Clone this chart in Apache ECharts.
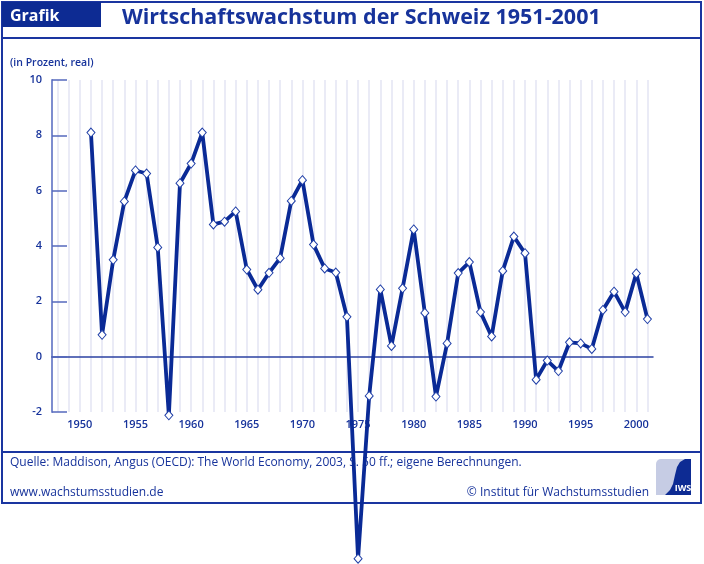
<!DOCTYPE html>
<html>
<head>
<meta charset="utf-8">
<script src="https://cdn.jsdelivr.net/npm/echarts@6/dist/echarts.min.js"></script>
<style>
  html, body { margin: 0; padding: 0; background: #fff; }
  #chart { width: 704px; height: 564px; }
</style>
</head>
<body>
<div id="chart"></div>
<script>
  // Wirtschaftswachstum der Schweiz, Prozent real
  const years = [
    1951, 1952, 1953, 1954, 1955, 1956, 1957, 1958, 1959, 1960,
    1961, 1962, 1963, 1964, 1965, 1966, 1967, 1968, 1969, 1970,
    1971, 1972, 1973, 1974, 1975, 1976, 1977, 1978, 1979, 1980,
    1981, 1982, 1983, 1984, 1985, 1986, 1987, 1988, 1989, 1990,
    1991, 1992, 1993, 1994, 1995, 1996, 1997, 1998, 1999, 2000, 2001
  ]
  const growth = [
    8.10, 0.79, 3.50, 5.61, 6.73, 6.62, 3.95, -2.12, 6.27, 6.98,
    8.10, 4.78, 4.88, 5.25, 3.15, 2.42, 3.03, 3.56, 5.63, 6.38,
    4.05, 3.19, 3.04, 1.44, -7.30, -1.42, 2.43, 0.39, 2.47, 4.60,
    1.58, -1.44, 0.48, 3.02, 3.42, 1.61, 0.73, 3.10, 4.34, 3.74,
    -0.83, -0.14, -0.52, 0.52, 0.48, 0.28, 1.69, 2.35, 1.61, 3.01, 1.36
  ]
  const xLabels = [1950, 1955, 1960, 1965, 1970, 1975, 1980, 1985, 1990, 1995, 2000]
  const gridYears = []
  for (let y = 1948; y <= 2001; y++) gridYears.push(y)

  const blue = '#0a2a96'
  const textBlue = '#17339b'
  const font = 'Open Sans'

  const chart = echarts.init(document.getElementById('chart'))

  chart.setOption({
    animation: false,
    title: {
      text: 'Wirtschaftswachstum der Schweiz 1951-2001',
      left: 117,
      top: 2,
      textStyle: { color: textBlue, fontFamily: font, fontWeight: 'bold', fontSize: 21.5 }
    },
    grid: { left: 52, right: 51, top: 80, bottom: 152, containLabel: false },
    xAxis: [{
      type: 'value',
      min: 1947.5,
      max: 2001.5,
      position: 'bottom',
      axisLine: { show: false, onZero: false },
      axisTick: { show: false, customValues: gridYears },
      splitLine: { show: true, lineStyle: { color: '#e3e5f3', width: 1.5 } },
      axisLabel: {
        customValues: xLabels,
        formatter: v => String(v),
        color: textBlue, fontFamily: font, fontWeight: 600, fontSize: 11, margin: 7
      }
    }, {
      // Nulllinie
      type: 'value',
      min: 1947.5,
      max: 2001.5,
      position: 'bottom',
      axisLine: { show: true, onZero: true, lineStyle: { color: '#2c43a3', width: 1.5 } },
      axisTick: { show: false },
      axisLabel: { show: false },
      splitLine: { show: false }
    }],
    yAxis: {
      type: 'value',
      min: -2,
      max: 10,
      interval: 2,
      axisLine: { show: true, lineStyle: { color: '#7d8dcf', width: 2 } },
      axisTick: { show: true, inside: true, length: 15, lineStyle: { color: '#5569bd', width: 1.5 } },
      splitLine: { show: false },
      axisLabel: { color: textBlue, fontFamily: font, fontWeight: 600, fontSize: 11, margin: 10 }
    },
    series: [{
      type: 'line',
      xAxisIndex: 0,
      data: years.map((y, i) => [y, growth[i]]),
      clip: false,
      z: 20,
      symbol: 'diamond',
      symbolSize: [8, 9],
      showAllSymbol: true,
      lineStyle: { color: blue, width: 3.8 },
      itemStyle: { color: '#fff', borderColor: '#2140a8', borderWidth: 1 }
    }],
    graphic: [
      // Rahmen
      { type: 'rect', z: 0, shape: { x: 2, y: 2, width: 699, height: 501 },
        style: { fill: null, stroke: '#1a35a0', lineWidth: 2 } },
      { type: 'rect', z: 0, shape: { x: 2, y: 2, width: 99, height: 25 },
        style: { fill: '#0d2b93' } },
      { type: 'text', z: 1, x: 10, y: 16,
        style: { text: 'Grafik', fill: '#fff', font: 'bold 16px "Open Sans"', verticalAlign: 'middle' } },
      { type: 'line', z: 0, shape: { x1: 2, y1: 38, x2: 701, y2: 38 },
        style: { stroke: '#1a35a0', lineWidth: 2 } },
      { type: 'text', z: 1, x: 10, y: 63,
        style: { text: '(in Prozent, real)', fill: textBlue, font: '600 10.5px "Open Sans"', verticalAlign: 'middle' } },
      // Fusszeile
      { type: 'line', z: 0, shape: { x1: 2, y1: 452, x2: 701, y2: 452 },
        style: { stroke: '#1a35a0', lineWidth: 2 } },
      { type: 'text', z: 1, x: 10, y: 463,
        style: { text: 'Quelle: Maddison, Angus (OECD): The World Economy, 2003, S. 50 ff.; eigene Berechnungen.',
          fill: textBlue, font: '12px "Open Sans"', verticalAlign: 'middle' } },
      { type: 'text', z: 1, x: 10, y: 493,
        style: { text: 'www.wachstumsstudien.de', fill: textBlue, font: '12px "Open Sans"', verticalAlign: 'middle' } },
      { type: 'text', z: 1, x: 649, y: 493,
        style: { text: '\u00a9 Institut f\u00fcr Wachstumsstudien', fill: textBlue, font: '12px "Open Sans"',
          align: 'right', verticalAlign: 'middle' } },
      // Logo
      { type: 'rect', z: 0, shape: { x: 656, y: 459, width: 35, height: 36, r: [5, 0, 0, 0] },
        style: { fill: '#c6cce4' } },
      { type: 'polygon', z: 1,
        shape: { points: [[691, 459], [685, 459], [680, 462], [677, 467], [675, 475], [673, 484], [670, 490], [665, 495], [691, 495]] },
        style: { fill: '#0d2b93' } },
      { type: 'text', z: 2, x: 683, y: 488,
        style: { text: 'IWS', fill: '#fff', font: 'bold 9px "Open Sans"', align: 'center', verticalAlign: 'middle' } }
    ]
  })
</script>
</body>
</html>
